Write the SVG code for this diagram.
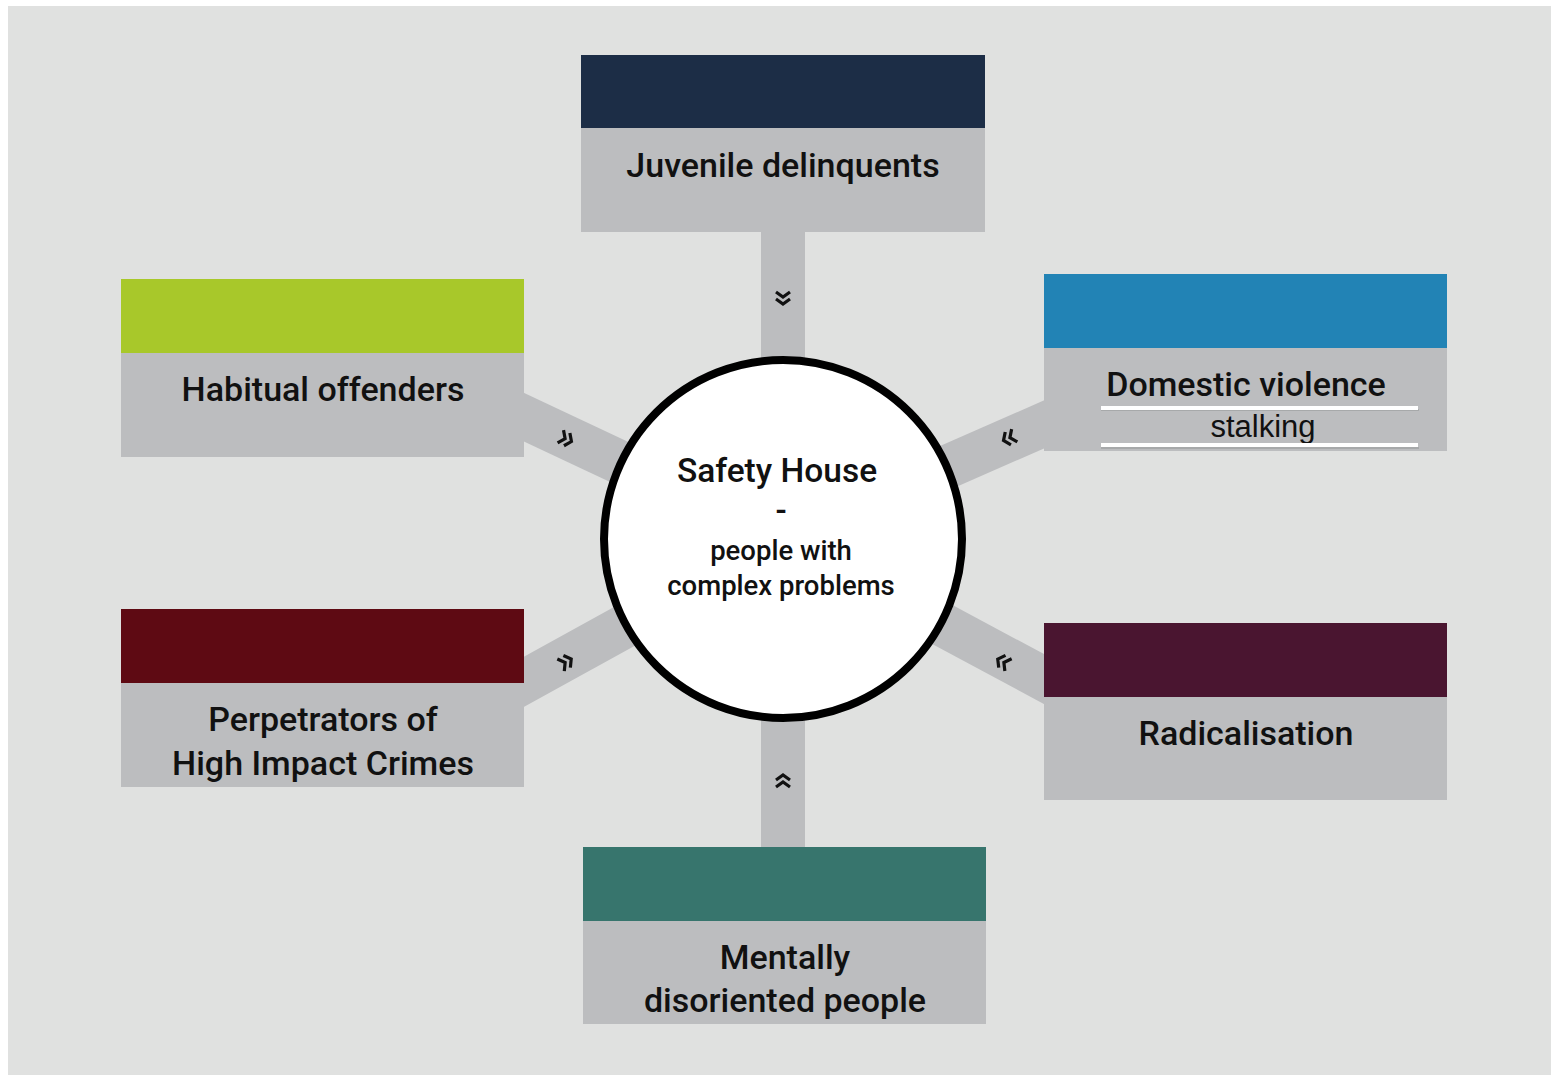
<svg xmlns="http://www.w3.org/2000/svg" width="1551" height="1075" viewBox="0 0 1551 1075">
<defs>
<style>
.lbl{font-family:Roboto,"Liberation Sans",sans-serif;font-weight:500;font-size:34px;fill:#111;text-anchor:middle}
.ctr{font-family:Roboto,"Liberation Sans",sans-serif;font-weight:500;fill:#111;text-anchor:middle}
.gray{fill:#bcbdbf}
.bar{stroke:#bcbdbf;stroke-width:44;fill:none}
.chev{fill:none;stroke:#111;stroke-width:3.2;stroke-linejoin:miter}
</style>
<path id="chev" class="chev" d="M-6,-7 L-1,0 L-6,7 M1,-7 L6,0 L1,7"/>
</defs>
<rect x="0" y="0" width="1551" height="1075" fill="#ffffff"/>
<rect x="8" y="6" width="1543" height="1069" fill="#e0e1e0"/>
<g id="connectors">
<line class="bar" x1="783" y1="539" x2="783" y2="232"/>
<line class="bar" x1="783" y1="539" x2="783" y2="847"/>
<line class="bar" x1="783" y1="539" x2="500" y2="406"/>
<line class="bar" x1="783" y1="539" x2="1070" y2="413"/>
<line class="bar" x1="783" y1="539" x2="500" y2="695"/>
<line class="bar" x1="783" y1="539" x2="1070" y2="693"/>
<use href="#chev" transform="translate(783,298) rotate(90)"/>
<use href="#chev" transform="translate(783,781) rotate(-90)"/>
<use href="#chev" transform="translate(566,439) rotate(25)"/>
<use href="#chev" transform="translate(1009,438) rotate(156)"/>
<use href="#chev" transform="translate(566,662) rotate(-30)"/>
<use href="#chev" transform="translate(1003,662) rotate(-151)"/>
</g>
<g id="node-juvenile">
<rect x="581" y="55" width="404" height="74" fill="#1c2d46"/>
<rect class="gray" x="581" y="128" width="404" height="104"/>
<text class="lbl" x="783" y="177">Juvenile delinquents</text>
</g>
<g id="node-habitual">
<rect x="121" y="279" width="403" height="75" fill="#a8c82a"/>
<rect class="gray" x="121" y="353" width="403" height="104"/>
<text class="lbl" x="323" y="401">Habitual offenders</text>
</g>
<g id="node-domestic">
<rect x="1044" y="274" width="403" height="75" fill="#2283b5"/>
<rect class="gray" x="1044" y="348" width="403" height="103"/>
<text class="lbl" x="1246" y="396">Domestic violence</text>
<rect x="1101" y="409" width="318" height="2" fill="#9a9b9d" opacity="0.6"/>
<rect x="1101" y="406" width="317" height="4" fill="#ffffff"/>
<text x="1263" y="437" font-family="'Liberation Sans',Arial,sans-serif" font-size="31" fill="#111" text-anchor="middle">stalking</text>
<rect x="1101" y="447" width="318" height="2" fill="#9a9b9d" opacity="0.6"/>
<rect x="1101" y="443" width="317" height="4" fill="#ffffff"/>
</g>
<g id="node-perpetrators">
<rect x="121" y="609" width="403" height="75" fill="#5e0a13"/>
<rect class="gray" x="121" y="683" width="403" height="104"/>
<text class="lbl" x="323" y="731">Perpetrators of</text>
<text class="lbl" x="323" y="775">High Impact Crimes</text>
</g>
<g id="node-radicalisation">
<rect x="1044" y="623" width="403" height="75" fill="#4a1530"/>
<rect class="gray" x="1044" y="697" width="403" height="103"/>
<text class="lbl" x="1246" y="745">Radicalisation</text>
</g>
<g id="node-mentally">
<rect x="583" y="847" width="403" height="75" fill="#37756d"/>
<rect class="gray" x="583" y="921" width="403" height="103"/>
<text class="lbl" x="785" y="969">Mentally</text>
<text class="lbl" x="785" y="1012">disoriented people</text>
</g>
<g id="node-center">
<circle cx="783" cy="539" r="179" fill="#ffffff" stroke="#000000" stroke-width="8"/>
<text class="ctr" x="777" y="482" font-size="33.5">Safety House</text>
<text class="ctr" x="781" y="522" font-size="33">-</text>
<text class="ctr" x="781" y="560" font-size="27.5">people with</text>
<text class="ctr" x="781" y="595" font-size="27.5">complex problems</text>
</g>
</svg>
